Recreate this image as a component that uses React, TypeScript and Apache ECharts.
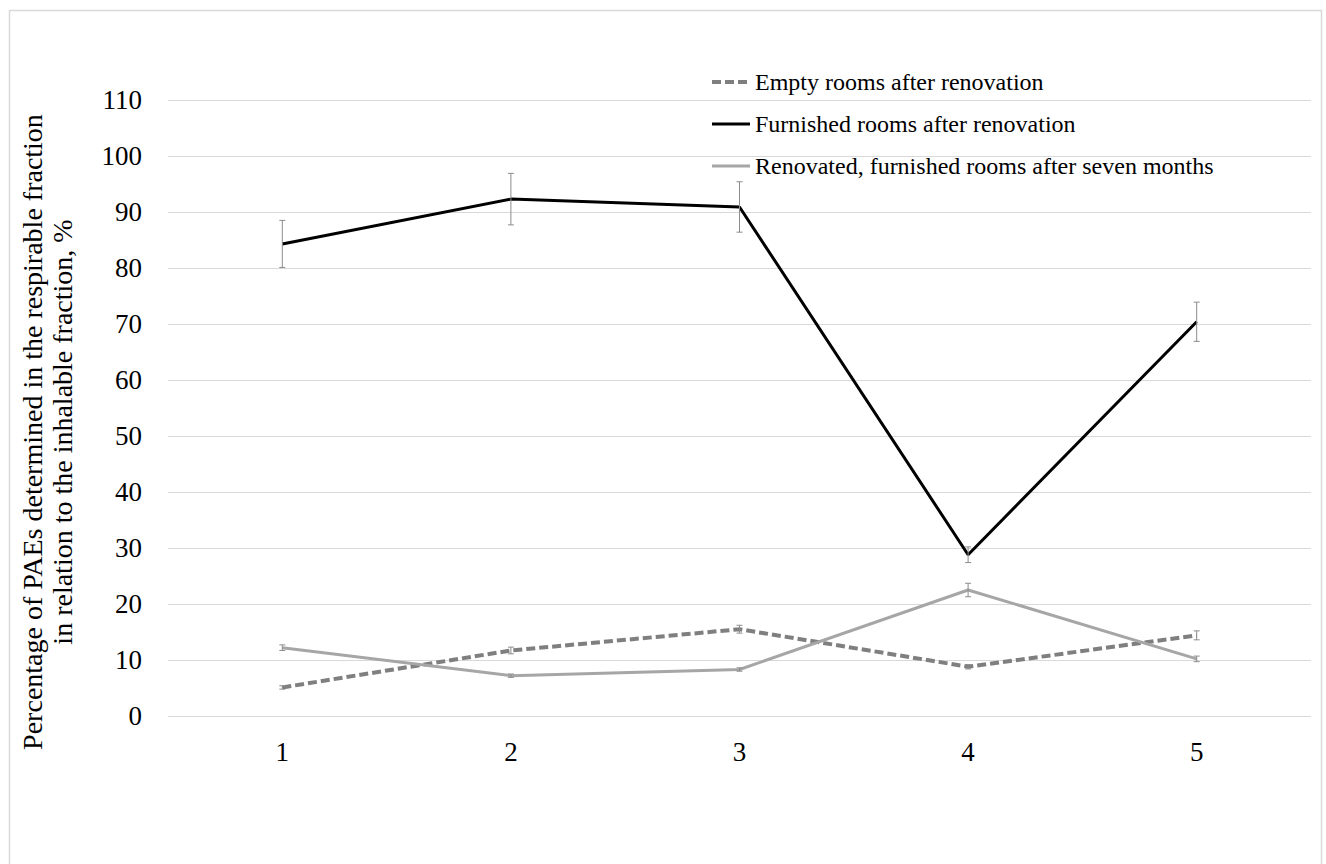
import React, { useEffect, useRef } from "react";
import * as echarts from "echarts";

const categories = ["1", "2", "3", "4", "5"];
const emptyRooms = [5.1, 11.7, 15.5, 8.8, 14.4];
const emptyErr = [0.3, 0.6, 0.7, 0.4, 0.8];
const furnishedRooms = [84.3, 92.3, 90.9, 28.8, 70.4];
const furnishedErr = [4.2, 4.6, 4.5, 1.4, 3.5];
const renovatedRooms = [12.2, 7.2, 8.3, 22.5, 10.2];
const renovatedErr = [0.5, 0.3, 0.3, 1.2, 0.5];
const seriesNames = [
  "Empty rooms after renovation",
  "Furnished rooms after renovation",
  "Renovated, furnished rooms after seven months",
];

const FONT = "'Liberation Serif', 'Times New Roman', serif";

function errData(vals: number[], errs: number[]) {
  return vals.map((v, i) => [i, v - errs[i], v + errs[i]]);
}

function errSeries(vals: number[], errs: number[]) {
  return {
    type: "custom",
    silent: true,
    z: 5,
    data: errData(vals, errs),
    renderItem: (params: any, api: any) => {
      const x = api.value(0);
      const lo = api.coord([x, api.value(1)]);
      const hi = api.coord([x, api.value(2)]);
      const c = 3;
      const style = { stroke: "#8c8c8c", lineWidth: 1 };
      return {
        type: "group",
        children: [
          { type: "line", shape: { x1: lo[0], y1: lo[1], x2: hi[0], y2: hi[1] }, style },
          { type: "line", shape: { x1: lo[0] - c, y1: lo[1], x2: lo[0] + c, y2: lo[1] }, style },
          { type: "line", shape: { x1: hi[0] - c, y1: hi[1], x2: hi[0] + c, y2: hi[1] }, style },
        ],
      };
    },
  };
}

export default function App() {
  const ref = useRef<HTMLDivElement>(null);
  useEffect(() => {
    if (!ref.current) return;
    const chart = echarts.init(ref.current, undefined, { renderer: "svg" });
    chart.setOption({
      animation: false,
      backgroundColor: "#ffffff",
      textStyle: { fontFamily: FONT },
      grid: { left: 168, right: 15, top: 100, bottom: 148 },
      legend: {
        orient: "vertical",
        left: 705,
        top: 62,
        itemWidth: 38,
        itemHeight: 14,
        itemGap: 12,
        data: [
          { name: seriesNames[0], lineStyle: { width: 4, color: "#7f7f7f", type: [9, 4] } },
          { name: seriesNames[1], lineStyle: { width: 3, color: "#000000" } },
          { name: seriesNames[2], lineStyle: { width: 3, color: "#a6a6a6" } },
        ],
        itemStyle: { opacity: 0 },
        textStyle: { fontFamily: FONT, fontSize: 24, color: "#000", lineHeight: 30 },
      },
      xAxis: {
        type: "category",
        data: categories,
        boundaryGap: true,
        axisLine: { show: false },
        axisTick: { show: false },
        axisLabel: { fontFamily: FONT, fontSize: 27, color: "#000", margin: 22 },
      },
      yAxis: {
        type: "value",
        min: 0,
        max: 110,
        interval: 10,
        axisLine: { show: false },
        axisTick: { show: false },
        splitLine: { lineStyle: { color: "#d9d9d9", width: 1 } },
        axisLabel: { fontFamily: FONT, fontSize: 27, color: "#000", margin: 26 },
      },
      graphic: [
        {
          type: "polyline",
          shape: { points: [[9.5, 900], [9.5, 10.5], [1321.5, 10.5], [1321.5, 900]] },
          style: { stroke: "#d9d9d9", lineWidth: 1.5, fill: "none" },
          silent: true,
        },
        {
          type: "text",
          x: 47,
          y: 432,
          rotation: Math.PI / 2,
          style: {
            text:
              "Percentage of PAEs determined in the respirable fraction\nin relation to the inhalable fraction, %",
            fontFamily: FONT,
            fontSize: 28,
            lineHeight: 30,
            fill: "#000",
            align: "center",
            verticalAlign: "middle",
          },
        },
      ],
      series: [
        {
          name: seriesNames[0],
          type: "line",
          data: emptyRooms,
          symbol: "none",
          z: 3,
          lineStyle: { color: "#7f7f7f", width: 4, type: [9, 4] },
          itemStyle: { color: "#7f7f7f" },
        },
        {
          name: seriesNames[1],
          type: "line",
          data: furnishedRooms,
          symbol: "none",
          z: 3,
          lineStyle: { color: "#000000", width: 3 },
          itemStyle: { color: "#000000" },
        },
        {
          name: seriesNames[2],
          type: "line",
          data: renovatedRooms,
          symbol: "none",
          z: 3,
          lineStyle: { color: "#a6a6a6", width: 3 },
          itemStyle: { color: "#a6a6a6" },
        },
        errSeries(emptyRooms, emptyErr),
        errSeries(furnishedRooms, furnishedErr),
        errSeries(renovatedRooms, renovatedErr),
      ],
    });
    return () => chart.dispose();
  }, []);
  return (
    <div
      ref={ref}
      style={{ position: "fixed", left: 0, top: 0, width: 1326, height: 864 }}
    />
  );
}
